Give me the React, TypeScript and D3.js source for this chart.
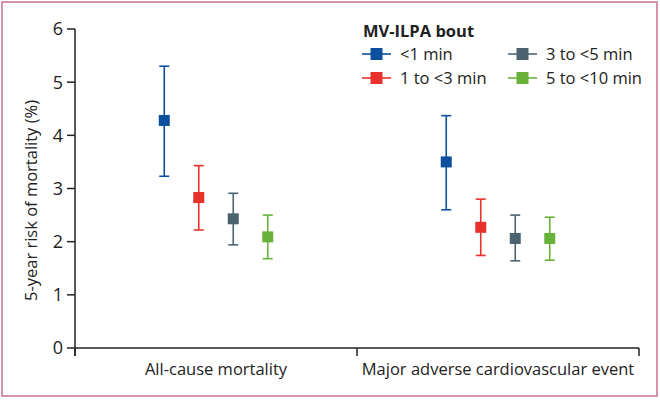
import React from "react";
import * as d3 from "d3";

const outcomes = ["All-cause mortality", "Major adverse cardiovascular event"];
const bouts = ["<1 min", "1 to <3 min", "3 to <5 min", "5 to <10 min"];
const colors = ["#0b4f9e", "#e8312b", "#4b6371", "#68b23b"];
// estimates [outcome][bout]
const estimate = [
  [4.28, 2.83, 2.43, 2.09],
  [3.5, 2.27, 2.06, 2.06],
];
const lower = [
  [3.23, 2.22, 1.94, 1.68],
  [2.6, 1.74, 1.64, 1.65],
];
const upper = [
  [5.3, 3.43, 2.91, 2.5],
  [4.37, 2.8, 2.5, 2.46],
];
const yTicks = [0, 1, 2, 3, 4, 5, 6];

const W = 660;
const H = 400;
const FONT = "'Open Sans', 'Noto Sans', sans-serif";

export default function App() {
  const left = 75, right = 639, top = 29, bottom = 348;
  const y = d3.scaleLinear().domain([0, 6]).range([bottom, top]);
  const xOuter = d3.scaleBand().domain(outcomes).range([left, right]).padding(0);
  const xInner = d3
    .scalePoint()
    .domain(bouts)
    .range([0, 103.5]);
  const groupOffset = (xOuter.bandwidth() - 103.5) / 2;
  const px = (o: string, b: string) => (xOuter(o) as number) + groupOffset + (xInner(b) as number);
  const sq = 11;
  const cap = 5;

  const legendPos = [
    { x: 362, y: 54 },
    { x: 362, y: 78 },
    { x: 508, y: 54 },
    { x: 508, y: 78 },
  ];

  return (
    <svg width={W} height={H} style={{ position: "absolute", left: 0, top: 0, background: "#fff" }} fontFamily={FONT}>
      <rect x={2} y={2} width={655} height={394} fill="#fff" stroke="#c9718f" strokeWidth={1.5} />
      {/* y axis */}
      <line x1={left} x2={left} y1={top} y2={bottom + 8} stroke="#222" strokeWidth={1.5} />
      {yTicks.map((t) => (
        <g key={t}>
          <line x1={left - 8} x2={left} y1={y(t)} y2={y(t)} stroke="#222" strokeWidth={1.5} />
          <text x={left - 12} y={y(t)} dy="0.36em" textAnchor="end" fontSize={18} fill="#222">
            {t}
          </text>
        </g>
      ))}
      {/* x axis */}
      <line x1={left} x2={right} y1={bottom} y2={bottom} stroke="#222" strokeWidth={1.5} />
      {[left, xOuter(outcomes[1]) as number, right].map((v, i) => (
        <line key={i} x1={v} x2={v} y1={bottom} y2={bottom + 8} stroke="#222" strokeWidth={1.5} />
      ))}
      {outcomes.map((o) => (
        <text
          key={o}
          x={(xOuter(o) as number) + xOuter.bandwidth() / 2}
          y={375}
          textAnchor="middle"
          fontSize={16.5}
          fill="#222"
        >
          {o}
        </text>
      ))}
      <text
        transform={`translate(37,${(top + bottom) / 2 + 12}) rotate(-90)`}
        textAnchor="middle"
        fontSize={16.5}
        fill="#222"
      >
        5-year risk of mortality (%)
      </text>
      {/* points */}
      {outcomes.map((o, oi) =>
        bouts.map((b, bi) => {
          const cx = px(o, b);
          const c = colors[bi];
          return (
            <g key={o + b}>
              <line x1={cx} x2={cx} y1={y(lower[oi][bi])} y2={y(upper[oi][bi])} stroke={c} strokeWidth={1.6} />
              <line x1={cx - cap} x2={cx + cap} y1={y(lower[oi][bi])} y2={y(lower[oi][bi])} stroke={c} strokeWidth={1.6} />
              <line x1={cx - cap} x2={cx + cap} y1={y(upper[oi][bi])} y2={y(upper[oi][bi])} stroke={c} strokeWidth={1.6} />
              <rect x={cx - sq / 2} y={y(estimate[oi][bi]) - sq / 2} width={sq} height={sq} fill={c} />
            </g>
          );
        })
      )}
      {/* legend */}
      <text x={363} y={37} fontSize={16.5} fontWeight="bold" fill="#222">
        MV-ILPA bout
      </text>
      {bouts.map((b, i) => {
        const p = legendPos[i];
        return (
          <g key={b}>
            <line x1={p.x} x2={p.x + 29} y1={p.y} y2={p.y} stroke={colors[i]} strokeWidth={1.6} />
            <rect x={p.x + 14.5 - 6} y={p.y - 6} width={12} height={12} fill={colors[i]} />
            <text x={p.x + 38} y={p.y} dy="0.36em" fontSize={16.5} fill="#222">
              {b}
            </text>
          </g>
        );
      })}
    </svg>
  );
}
